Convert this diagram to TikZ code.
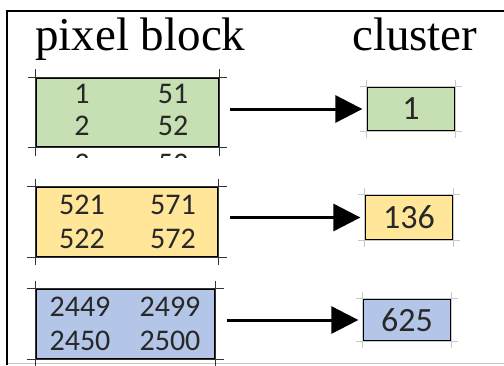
\documentclass[tikz,border=0pt]{standalone}
\usepackage{fontspec}
\setmainfont{Liberation Serif}
\newfontfamily\cellfont{Carlito}
\usetikzlibrary{arrows.meta}
\definecolor{cellgreen}{RGB}{198,224,180}
\definecolor{cellyellow}{RGB}{255,230,153}
\definecolor{cellblue}{RGB}{180,198,231}
\definecolor{gridgray}{RGB}{200,200,200}
\definecolor{celltext}{RGB}{40,40,40}
\newcommand{\cellsize}{\cellfont\fontsize{30}{30}\selectfont}
\newcommand{\gridticks}[2]{
    \draw[#2] (#1.north west) -- (#1.north east);
    \draw[#2] (#1.south west) -- (#1.south east);
    \draw[#2] (#1.north west) -- (#1.south west);
    \draw[#2] (#1.north east) -- (#1.south east);
}
\tikzset{
    common/.style={draw, rectangle, inner sep=0pt},
    pixblock/.style={common, line width=1.5pt, minimum width=182pt, minimum height=69pt},
    clusterbox/.style={common, line width=1.3pt, minimum width=88pt, minimum height=44pt, text=celltext, font=\cellfont\fontsize{34}{34}\selectfont},
    cell/.style={inner sep=0pt, text=celltext, font=\cellsize},
    head/.style={inner sep=0pt, anchor=base west, font=\fontsize{47}{47}\selectfont},
    mapsto/.style={-{Triangle[length=27pt,width=27pt]}, line width=3pt, shorten <=11pt, shorten >=4pt},
    extend/.style={line width=0.9pt, black!80, shorten <=-8pt, shorten >=-8pt},
    faint/.style={line width=0.6pt, gridgray, shorten <=-6pt, shorten >=-6pt}
}
\begin{document}
\begin{tikzpicture}[x=1pt, y=-1pt]
    \useasboundingbox (0,0) rectangle (504,365);
    \draw[line width=0.8pt, gridgray] (7,363) -- (504,363);
    \draw[line width=1.5pt] (7,365) -- (7,11) -- (504,11);

    \node[head] (pixHead) at (35,50) {pixel block};
    \node[head] (clusterHead) at (352,50) {cluster};

    \node[pixblock, fill=cellgreen] (greenBlock) at (127.5,112.5) {};
    \node[pixblock, fill=cellyellow] (yellowBlock) at (127,222) {};
    \node[pixblock, fill=cellblue, minimum width=179pt] (blueBlock) at (125.5,324) {};
    \gridticks{greenBlock}{extend}
    \gridticks{yellowBlock}{extend}
    \gridticks{blueBlock}{extend}

    \node[cell] (g11) at (82,94) {1};
    \node[cell] (g12) at (173,94) {51};
    \node[cell] (g21) at (82,126) {2};
    \node[cell] (g22) at (173,126) {52};
    \begin{scope}
        \clip (30,152.5) rectangle (230,157);
        \node[cell] (g31) at (82,164) {3};
        \node[cell] (g32) at (173,164) {53};
    \end{scope}

    \node[cell] (y11) at (82,205) {521};
    \node[cell] (y12) at (173,205) {571};
    \node[cell] (y21) at (82,239) {522};
    \node[cell] (y22) at (173,239) {572};

    \node[cell] (b11) at (80,307) {2449};
    \node[cell] (b12) at (170,307) {2499};
    \node[cell] (b21) at (80,341) {2450};
    \node[cell] (b22) at (170,341) {2500};

    \node[clusterbox, fill=cellgreen] (greenCluster) at (411,109) {1};
    \node[clusterbox, fill=cellyellow, minimum height=45pt] (yellowCluster) at (409,217.5) {136};
    \node[clusterbox, fill=cellblue, minimum height=42pt] (blueCluster) at (407,320) {625};
    \gridticks{greenCluster}{faint}
    \gridticks{yellowCluster}{faint}
    \gridticks{blueCluster}{faint}

    \draw[mapsto] (greenBlock.east |- greenCluster.west) -- (greenCluster.west);
    \draw[mapsto] (yellowBlock.east |- yellowCluster.west) -- (yellowCluster.west);
    \draw[mapsto] (blueBlock.east |- blueCluster.west) -- (blueCluster.west);
\end{tikzpicture}
\end{document}
